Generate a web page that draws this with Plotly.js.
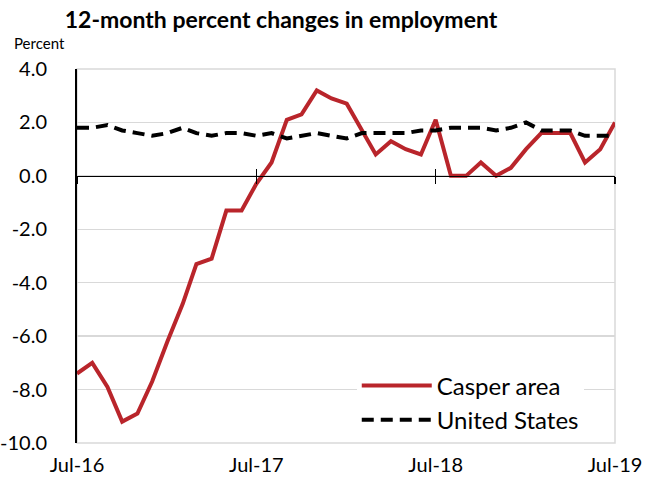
<!DOCTYPE html>
<html>
<head>
<meta charset="utf-8">
<script src="https://cdn.plot.ly/plotly-3.0.1.min.js"></script>
<style>html,body{margin:0;padding:0;background:#fff;}#chart{width:646px;height:479px;}</style>
</head>
<body>
<div id="chart"></div>
<script>
const months = [
  "2016-07-01","2016-08-01","2016-09-01","2016-10-01","2016-11-01","2016-12-01",
  "2017-01-01","2017-02-01","2017-03-01","2017-04-01","2017-05-01","2017-06-01",
  "2017-07-01","2017-08-01","2017-09-01","2017-10-01","2017-11-01","2017-12-01",
  "2018-01-01","2018-02-01","2018-03-01","2018-04-01","2018-05-01","2018-06-01",
  "2018-07-01","2018-08-01","2018-09-01","2018-10-01","2018-11-01","2018-12-01",
  "2019-01-01","2019-02-01","2019-03-01","2019-04-01","2019-05-01","2019-06-01",
  "2019-07-01"
];
const casper = [-7.4,-7.0,-7.9,-9.2,-8.9,-7.7,-6.2,-4.8,-3.3,-3.1,-1.3,-1.3,
  -0.3,0.5,2.1,2.3,3.2,2.9,2.7,1.7,0.8,1.3,1.0,0.8,
  2.1,0.0,0.0,0.5,0.0,0.3,1.0,1.6,1.6,1.6,0.5,1.0,2.0];
const us = [1.8,1.8,1.9,1.7,1.6,1.5,1.6,1.8,1.6,1.5,1.6,1.6,
  1.5,1.6,1.4,1.5,1.6,1.5,1.4,1.6,1.6,1.6,1.6,1.7,
  1.7,1.8,1.8,1.8,1.7,1.8,2.0,1.7,1.7,1.7,1.5,1.5,1.5];
const xTickVals = ["2016-07-01","2017-07-01","2018-07-01","2019-07-01"];
const xTickText = ["Jul-16","Jul-17","Jul-18","Jul-19"];
const yTickVals = [-10,-8,-6,-4,-2,0,2,4];
const yTickText = ["-10.0","-8.0","-6.0","-4.0","-2.0","0.0","2.0","4.0"];
const yMin = -10, yMax = 4;

const FONT = "Lato, 'Open Sans', sans-serif";
const zeroPos = (0 - yMin) / (yMax - yMin);

const traces = [
  {x: months, y: casper, name: "Casper area", type: "scatter", mode: "lines",
   line: {color: "#B9252B", width: 4}},
  {x: months, y: us, name: "United States", type: "scatter", mode: "lines",
   line: {color: "#000000", width: 4, dash: "12px,7px"}},
  {x: months, y: us, xaxis: "x2", yaxis: "y", showlegend: false, hoverinfo: "skip",
   mode: "lines", line: {width: 0}, opacity: 0},
  {x: months, y: us, xaxis: "x3", yaxis: "y", showlegend: false, hoverinfo: "skip",
   mode: "lines", line: {width: 0}, opacity: 0}
];

const axX = {
  type: "date", range: [months[0], months[months.length-1]],
  tickvals: xTickVals, ticktext: xTickText,
  showgrid: false, zeroline: false, showline: false, ticks: "",
  ticklabelstandoff: 8,
  tickfont: {family: FONT, size: 20, color: "#000"}
};
const tickAxis = (dir) => ({
  type: "date", matches: "x", overlaying: "x", anchor: "free", position: zeroPos,
  tickvals: xTickVals, showticklabels: false, showgrid: false, zeroline: false,
  showline: true, linecolor: "#000", linewidth: 1.5,
  ticks: dir, ticklen: 7, tickwidth: 1.5, tickcolor: "#000"
});

const layout = {
  width: 646, height: 479,
  margin: {l: 77, r: 31, t: 69, b: 36},
  paper_bgcolor: "#fff", plot_bgcolor: "#fff",
  showlegend: true,
  title: {text: "<b>12-month percent changes in employment</b>", x: 0.435, xanchor: "center",
          y: 0.958, yanchor: "middle",
          font: {family: FONT, size: 23, color: "#000"}},
  xaxis: axX,
  xaxis2: tickAxis("outside"),
  xaxis3: tickAxis("inside"),
  yaxis: {
    range: [yMin, yMax], tickvals: yTickVals, ticktext: yTickText,
    showgrid: true, gridcolor: "#d9d9d9", gridwidth: 1.5,
    zeroline: false, showline: true, linecolor: "#000", linewidth: 2,
    ticks: "", ticklabelstandoff: 24,
    tickfont: {family: FONT, size: 20, color: "#000"}
  },
  shapes: [
    {type: "rect", xref: "paper", yref: "paper", x0: 0, x1: 1, y0: 0, y1: 1,
     line: {color: "#d9d9d9", width: 1.5}, layer: "below"}
  ],
  legend: {x: 0.52, y: 0.213, xanchor: "left", yanchor: "top", bgcolor: "#fff",
           itemwidth: 70, tracegroupgap: 0,
           font: {family: FONT, size: 24, color: "#000"}},
  annotations: [
    {text: "Percent", xref: "paper", yref: "paper", x: -0.12, y: 1.07,
     xanchor: "left", yanchor: "middle", showarrow: false,
     font: {family: FONT, size: 15, color: "#000"}}
  ]
};

Plotly.newPlot("chart", traces, layout, {displayModeBar: false, staticPlot: true});
</script>
</body>
</html>
